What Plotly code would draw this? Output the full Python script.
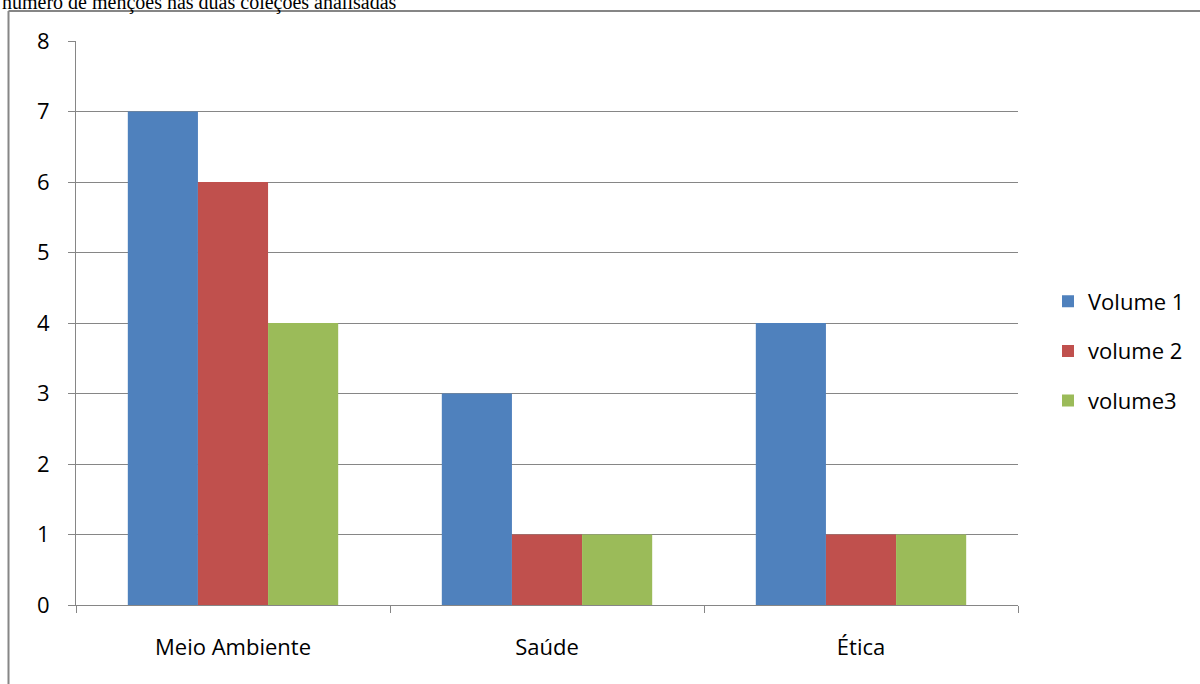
import plotly.graph_objects as go

categories = ["Meio Ambiente", "Saúde", "Ética"]
series_names = ["Volume 1", "volume 2", "volume3"]
volume1 = [7, 3, 4]
volume2 = [6, 1, 1]
volume3 = [4, 1, 1]
colors = ["#4F81BD", "#C0504D", "#9BBB59"]
title_text = "número de menções nas duas coleções analisadas"

W, H = 1200, 684
L, R, T, B = 76, 1018, 41, 605
pw, ph = R - L, B - T

def px(x):
    return (x - L) / pw

def py(y):
    return (B - y) / ph

fig = go.Figure()
for name, vals, col in zip(series_names, [volume1, volume2, volume3], colors):
    fig.add_trace(go.Bar(x=categories, y=vals, name=name, marker=dict(color=col, line=dict(width=0)),
                         legendgroup=name))

font_family = "Open Sans, Lato, sans-serif"
fs = 22
fig.update_layout(
    width=W, height=H,
    margin=dict(l=L, r=W - R, t=T, b=H - B, pad=0, autoexpand=False),
    paper_bgcolor="white", plot_bgcolor="white",
    barmode="group", bargap=0.33, bargroupgap=0,
    font=dict(family=font_family, size=fs, color="#000000"),
    showlegend=True,
    legend=dict(x=px(1048), xanchor="left", y=py(351), yanchor="middle",
                font=dict(size=fs, family=font_family), tracegroupgap=18,
                itemwidth=30, bgcolor="rgba(0,0,0,0)"),
    xaxis=dict(showgrid=False, showline=True, linecolor="#868686", linewidth=1,
               ticks="outside", tickson="boundaries", ticklen=7, tickcolor="#868686",
               tickfont=dict(size=fs), mirror=False, ticklabelstandoff=23, automargin=False),
    yaxis=dict(range=[0, 8], dtick=1, showgrid=True, gridcolor="#868686", gridwidth=1,
               showline=True, linecolor="#868686", linewidth=1, ticks="outside",
               ticklen=7, tickcolor="#868686", tickfont=dict(size=fs), zeroline=False,
               ticklabelstandoff=14, automargin=False),
)

# frame lines of the surrounding figure box
fig.add_shape(type="line", xref="paper", yref="paper", x0=px(8.5), x1=px(1200), y0=py(11), y1=py(11),
              line=dict(color="#868686", width=2))
fig.add_shape(type="line", xref="paper", yref="paper", x0=px(8.5), x1=px(8.5), y0=py(11), y1=py(684),
              line=dict(color="#868686", width=2))

fig.add_annotation(text=title_text, xref="paper", yref="paper", x=px(0), y=py(16),
                   xanchor="left", yanchor="bottom", showarrow=False,
                   font=dict(family="Liberation Serif, Times New Roman, serif", size=20, color="#000000"))

fig.write_html("out.html")
